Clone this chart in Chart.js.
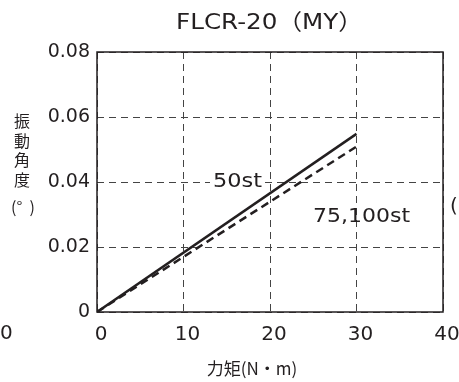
<!DOCTYPE html>
<html>
<head>
<meta charset="utf-8">
<script src="https://cdn.jsdelivr.net/npm/chart.js"></script>
<style>
  html, body { margin: 0; padding: 0; background: #fff; }
  #wrap { width: 459px; height: 382px; position: relative; }
</style>
</head>
<body>
<div id="wrap"><canvas id="chart"></canvas></div>
<script>
  const TITLE = 'FLCR-20（MY）';
  const X_TITLE = '力矩(N・m)';
  const Y_TITLE_CHARS = ['振', '動', '角', '度'];
  const Y_UNIT = '(°  )';
  const X_TICKS = [0, 10, 20, 30, 40];
  const Y_TICKS = [0, 0.02, 0.04, 0.06, 0.08];

  const torque = [0, 30];
  const angle50 = [0, 0.0548];
  const angle75100 = [0, 0.0509];

  const INK = '#231f20';
  const FONT = '"DejaVu Sans", "Noto Sans CJK JP", sans-serif';

  const toPoints = (xs, ys) => xs.map((x, i) => ({ x: x, y: ys[i] }));

  // text drawn from its left edge, stretched to the wide face of the original
  function wideText(ctx, str, x, y, width) {
    const w = ctx.measureText(str).width;
    ctx.save();
    ctx.translate(x, y);
    ctx.scale(width / w, 1);
    ctx.textAlign = 'left';
    ctx.fillText(str, 0, 0);
    ctx.restore();
  }

  const textPlugin = {
    id: 'textPlugin',
    afterDraw(chart) {
      const ctx = chart.ctx;
      const xs = chart.scales.x, ys = chart.scales.y;
      ctx.save();
      ctx.fillStyle = INK;
      ctx.textBaseline = 'middle';

      // title
      ctx.font = '22px "DejaVu Sans", "Noto Sans CJK JP", sans-serif';
      wideText(ctx, TITLE, 176, 23, 187);

      // y axis title (vertical)
      ctx.textAlign = 'center';
      ctx.font = '16px "Noto Sans CJK JP", sans-serif';
      Y_TITLE_CHARS.forEach((ch, i) => ctx.fillText(ch, 22, 121 + i * 19.5));
      ctx.fillText(Y_UNIT, 23, 207);

      // x axis title
      ctx.font = '17px "Noto Sans CJK JP", sans-serif';
      ctx.fillText(X_TITLE, 252, 369);

      // line labels
      ctx.font = '19px ' + FONT;
      const ly = ys.getPixelForValue(0.04);
      ctx.fillStyle = '#fff';
      ctx.fillRect(210, ly - 11, 55, 22);
      ctx.fillStyle = INK;
      wideText(ctx, '50st', 213, ly, 49);
      wideText(ctx, '75,100st', 313, ys.getPixelForValue(0.0293), 97);

      // neighbouring chart fragments at the crop edges
      ctx.font = '20px ' + FONT;
      ctx.textAlign = 'left';
      ctx.fillText('0', 0, 334);
      ctx.fillText('(', 450, 207);
      ctx.restore();
    }
  };

  new Chart(document.getElementById('chart'), {
    type: 'scatter',
    data: {
      datasets: [
        { label: '50st', data: toPoints(torque, angle50), showLine: true, borderColor: INK, borderWidth: 2.5, pointRadius: 0 },
        { label: '75,100st', data: toPoints(torque, angle75100), showLine: true, borderColor: INK, borderWidth: 2.5, borderDash: [8, 5], pointRadius: 0 }
      ]
    },
    options: {
      responsive: true,
      maintainAspectRatio: false,
      animation: false,
      layout: { padding: { left: 0, right: 16, top: 52, bottom: 0 } },
      plugins: { legend: { display: false }, tooltip: { enabled: false } },
      scales: {
        x: {
          type: 'linear', min: 0, max: 40,
          afterBuildTicks: s => { s.ticks = X_TICKS.map(v => ({ value: v })); },
          afterFit: s => { s.height = 70; s.paddingRight = 0; s.paddingLeft = 0; },
          ticks: { color: INK, font: { family: FONT, size: 20 }, padding: 11, labelOffset: 4, maxRotation: 0 },
          grid: { color: '#444', lineWidth: 1, drawTicks: false },
          border: { display: false, dash: [7, 5] }
        },
        y: {
          type: 'linear', min: 0, max: 0.08,
          afterBuildTicks: s => { s.ticks = Y_TICKS.map(v => ({ value: v })); },
          afterFit: s => { s.width = 97; s.paddingTop = 0; s.paddingBottom = 0; },
          ticks: { color: INK, font: { family: FONT, size: 19 }, padding: 7, callback: v => v === 0 ? '0' : v.toFixed(2) },
          grid: { color: '#444', lineWidth: 1, drawTicks: false },
          border: { display: false, dash: [7, 5] }
        }
      }
    },
    plugins: [{
      id: 'frame',
      beforeDatasetsDraw(chart) {
        const { ctx, chartArea: a } = chart;
        ctx.save();
        ctx.strokeStyle = INK;
        ctx.lineWidth = 1.5;
        ctx.setLineDash([]);
        ctx.strokeRect(a.left, a.top, a.right - a.left, a.bottom - a.top);
        ctx.restore();
      }
    }, textPlugin]
  });
</script>
</body>
</html>
